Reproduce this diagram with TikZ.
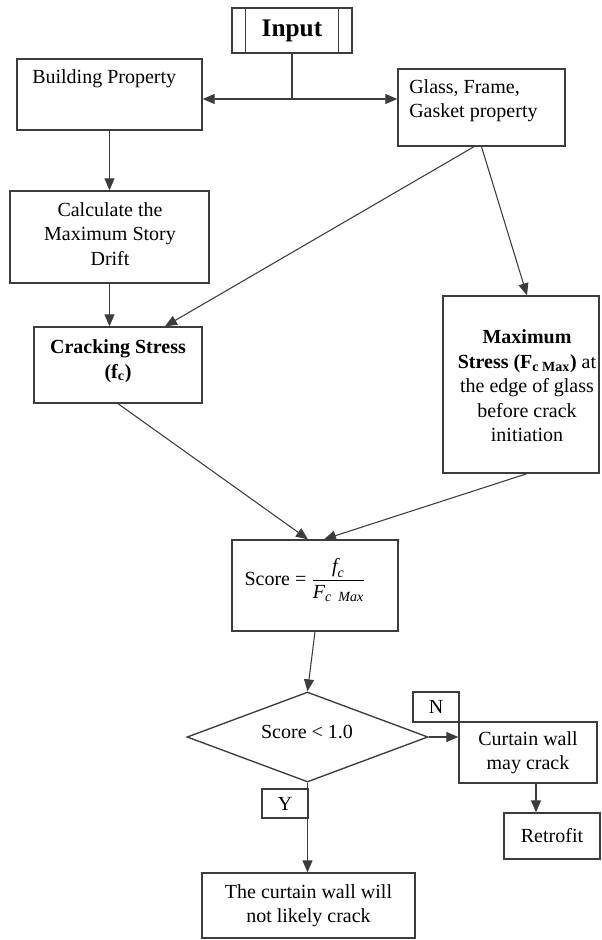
\documentclass[tikz,border=0pt]{standalone}
\usepackage{fontspec}
\setmainfont{Liberation Serif}
\usepackage{amsmath}
\usetikzlibrary{arrows.meta,shapes.geometric}
\definecolor{linec}{RGB}{60,60,60}
\newcommand\mainsz{\fontsize{15}{18.4}\selectfont}
\begin{document}
\begin{tikzpicture}[x=0.75pt,y=-0.75pt,font=\mainsz,
  box/.style={draw=linec,line width=1pt,rectangle,inner sep=0pt,align=center},
  txt/.style={inner sep=0pt,align=center},
  conn/.style={draw=linec,line width=0.8pt},
  arr/.style={draw=linec,line width=0.8pt,-{Triangle[length=9pt,width=7.5pt]}}]
\useasboundingbox (0,0) rectangle (601,940);
% boxes
\node[box,minimum width=90pt,minimum height=33.75pt,font=\fontsize{19}{22}\selectfont\bfseries] (input) at (292,30.5) {Input};
\node[box,minimum width=138.75pt,minimum height=53.25pt] (bp) at (109.5,94.5) {};
\node[txt,anchor=west] (bpT) at (32,79) {Building Property};
\node[box,minimum width=125.25pt,minimum height=57.75pt] (glass) at (481.5,107.5) {};
\node[txt,align=left,anchor=west] (glassT) at (409,100.5) {Glass, Frame,\\Gasket property};
\node[box,minimum width=149.25pt,minimum height=69pt] (calc) at (109.5,237) {};
\node[txt] (calcT) at (110,234) {Calculate the\\Maximum Story\\Drift};
\node[box,minimum width=126pt,minimum height=57pt] (crack) at (118,365) {};
\node[txt,font=\mainsz\bfseries] (crackT) at (118,361) {Cracking Stress\\(f\textsubscript{c})};
\node[box,minimum width=117pt,minimum height=132.75pt] (max) at (521,384.5) {};
\node[txt] (maxT) at (527,386) {\textbf{Maximum}\\\textbf{Stress (F\textsubscript{c Max})} at\\the edge of glass\\before crack\\initiation};
\node[box,minimum width=124.5pt,minimum height=68.25pt] (score) at (315,585.5) {};
\node[txt] (scoreT) at (305,580) {Score = $\dfrac{\textit{f}_{\textit{c}}}{\textit{F}_{\textit{c\ \ Max}}}$};
\node[draw=linec,line width=1pt,diamond,minimum width=180.75pt,minimum height=67.5pt,inner sep=0pt] (dec) at (307.5,737) {};
\node[txt] (decT) at (307,732) {Score < 1.0};
\node[box,minimum width=34.5pt,minimum height=22.5pt] (nbox) at (436,707) {N};
\node[box,minimum width=103.5pt,minimum height=45.75pt] (curt) at (528,752.5) {Curtain wall\\may crack};
\node[box,minimum width=72pt,minimum height=34.5pt] (retro) at (552,836) {Retrofit};
\node[box,minimum width=34.5pt,minimum height=21.75pt] (ybox) at (285,803.5) {Y};
\node[box,minimum width=159.75pt,minimum height=48.75pt] (nolik) at (308.5,905.5) {The curtain wall will\\not likely crack};
% input bars
\draw[conn,line width=1pt] ([xshift=10.5pt]input.north west) -- ([xshift=10.5pt]input.south west);
\draw[conn,line width=1pt] ([xshift=-10.5pt]input.north east) -- ([xshift=-10.5pt]input.south east);
% connectors
\coordinate (split) at (292,99);
\draw[conn] (input.south) -- (split);
\draw[arr] (split) -- (split -| bp.east);
\draw[arr] (split) -- (split -| glass.west);
\draw[arr] (bp.south) -- (calc.north);
\draw[arr] (calc.south) -- (calc.south |- crack.north);
\draw[arr] ([xshift=-5.6pt]glass.south) -- ([xshift=35.25pt]crack.north);
\draw[arr] (glass.south) -- ([xshift=4.5pt]max.north);
\draw[arr] (crack.south) -- ([xshift=-5.25pt]score.north);
\draw[arr] ([xshift=4.5pt]max.south) -- ([xshift=6.75pt]score.north);
\draw[arr] (score.south) -- (dec.north);
\draw[arr] (dec.east) -- (dec.east -| curt.west);
\draw[arr] ([xshift=6pt]curt.south) -- ([xshift=6pt]curt.south |- retro.north);
\draw[arr] (dec.south) -- (dec.south |- nolik.north);
\end{tikzpicture}
\end{document}
